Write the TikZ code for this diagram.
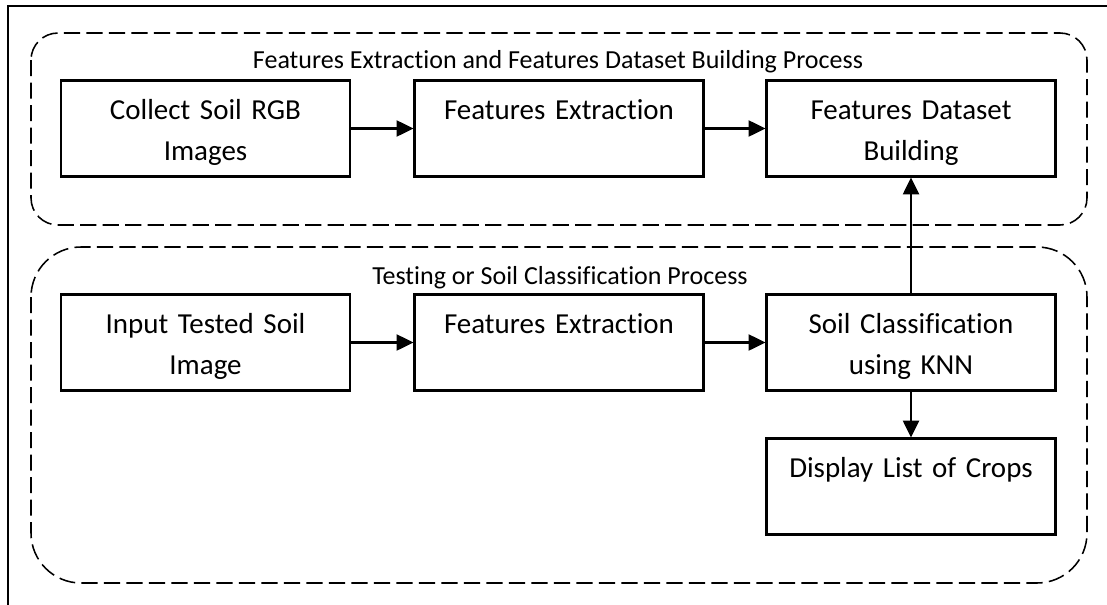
\documentclass[tikz,border=0pt]{standalone}
\usepackage{fontspec}
\setmainfont{Carlito}[Ligatures=NoCommon]
\usepackage{tikz}
\usetikzlibrary{arrows.meta}

\newcommand{\boxstrut}{\rule[-3.6pt]{0pt}{23.6pt}}

\begin{document}
\begin{tikzpicture}[x=0.025cm, y=-0.025cm,
  procbox/.style={draw, line width=1.5pt, inner sep=0pt, text width=7.225cm, minimum height=2.4cm, align=center, font=\fontsize{20.6}{29.2}\selectfont},
  groupbox/.style={draw, dash pattern=on 11.5pt off 4.5pt, line width=1.1pt},
  grouptitle/.style={anchor=base, inner sep=0pt, font=\fontsize{18.5}{22}\selectfont},
  flow/.style={-{Triangle[length=0.42cm, width=0.4cm]}, line width=1.6pt}]
\useasboundingbox (0,0) rectangle (1107,605);

% frame
\draw[line width=1.5pt] (8,605) -- (8,6) -- (1107,6);

% process groups
\draw[groupbox, rounded corners=0.675cm] (31,33) rectangle (1087,225);
\draw[groupbox, rounded corners=1.25cm] (31,247) rectangle (1087,583);
\node[grouptitle] (train title) at (558,68) {Features Extraction and Features Dataset Building Process};
\node[grouptitle] (test title) at (560,284) {Testing or Soil Classification Process};

% training row
\node[procbox] (collect) at (205.5,128.5) {\boxstrut Collect Soil RGB\\\boxstrut Images};
\node[procbox] (extract1) at (559,128.5) {\boxstrut Features Extraction\\\boxstrut};
\node[procbox] (dataset) at (911,128.5) {\boxstrut Features Dataset\\\boxstrut Building};

% testing row
\node[procbox] (input) at (205.5,342.5) {\boxstrut Input Tested Soil\\\boxstrut Image};
\node[procbox] (extract2) at (559,342.5) {\boxstrut Features Extraction\\\boxstrut};
\node[procbox] (classify) at (911,342.5) {\boxstrut Soil Classification\\\boxstrut using KNN};
\node[procbox] (display) at (911,486.5) {\boxstrut Display List of Crops\\\boxstrut};

\draw[flow] (collect) -- (extract1);
\draw[flow] (extract1) -- (dataset);
\draw[flow] (input) -- (extract2);
\draw[flow] (extract2) -- (classify);
\draw[flow] (classify) -- (dataset);
\draw[flow] (classify) -- (display);
\end{tikzpicture}
\end{document}
